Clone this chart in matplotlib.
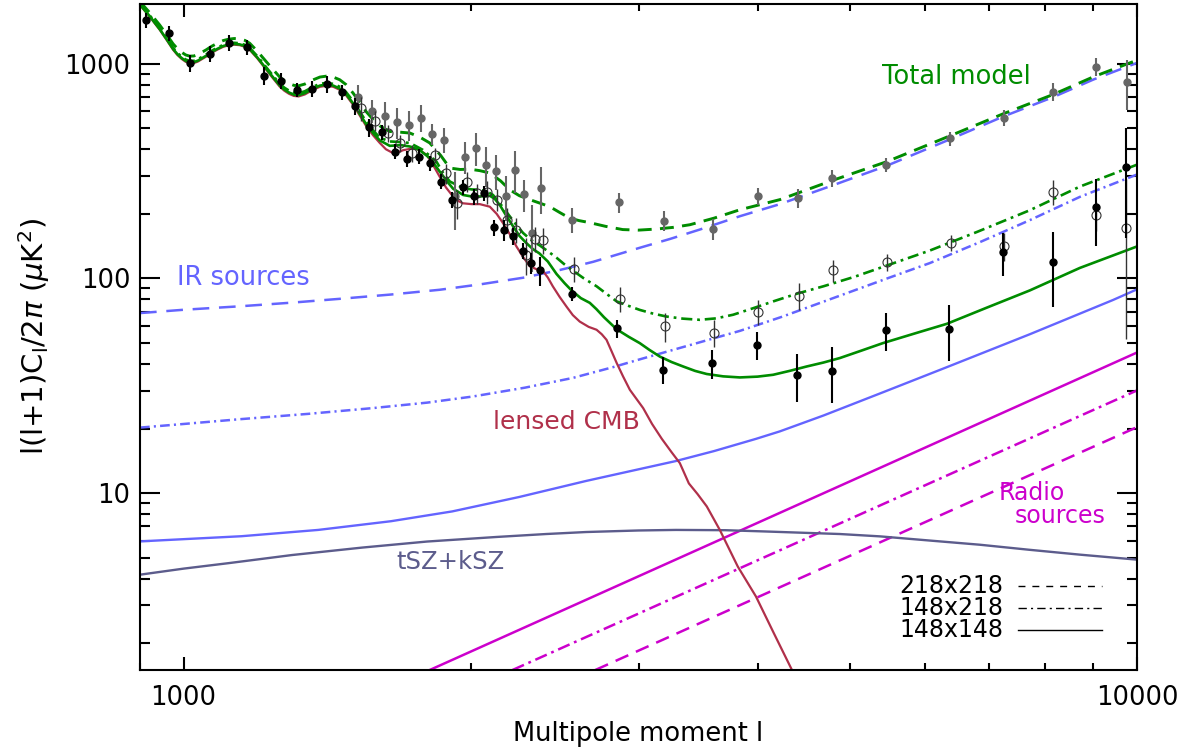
import numpy as np
import matplotlib
matplotlib.use('Agg')
import matplotlib.pyplot as plt
from matplotlib.ticker import FixedLocator, NullFormatter, FixedFormatter

plt.rcParams['font.family'] = ['DejaVu Sans']
plt.rcParams['mathtext.fontset'] = 'dejavusans'
plt.rcParams['lines.scale_dashes'] = False

# ---- model curves (multipole l, D_l in uK^2) ----
cmb_l = [900, 910, 921, 932, 944, 960, 975, 985, 995, 1005, 1015, 1025, 1035, 1056, 1070, 1085, 1100,
         1115, 1130, 1145, 1160, 1173, 1195, 1221, 1240, 1261, 1275, 1290, 1305, 1320, 1340, 1367,
         1390, 1411, 1435, 1458, 1480, 1506, 1530, 1555, 1580, 1606,
         1630, 1658, 1680, 1699, 1730, 1755, 1775, 1798, 1825, 1856, 1885, 1917, 1940, 1964, 2005,
         2045, 2095, 2130, 2163, 2200, 2234, 2270, 2307, 2350, 2383, 2410, 2439, 2480, 2521, 2560,
         2603, 2660, 2711, 2745, 2777, 2810, 2846, 2890, 2938, 2985, 3034, 3100, 3174, 3250, 3315,
         3388, 3460, 3538, 3651, 3813, 3984, 4159, 4346, 4500]
cmb_d = [1880, 1770, 1662, 1550, 1440, 1290, 1162, 1100, 1055, 1022, 1007, 1008, 1025, 1081, 1125, 1165, 1200,
         1220, 1228, 1222, 1200, 1162, 1060, 938, 860, 784, 750, 725, 709, 705, 720, 757,
         782, 790, 782, 757, 715, 644, 575, 511, 465, 428,
         400, 384, 388, 396, 402, 401, 392, 377, 340, 298, 265, 241, 230, 224, 222,
         222, 216, 200, 181, 160, 141, 126, 114, 110, 108, 101, 92, 82, 74, 67.5,
         63, 59.5, 57.7, 55, 51.8, 46, 40.4, 35, 30.3, 27.5, 24.9, 21, 17.9, 15.5, 13.8,
         11.1, 9.9, 8.67, 6.74, 4.55, 3.3, 2.23, 1.5, 1.1]

tot148_l = [900, 910, 921, 932, 944, 960, 975, 985, 995, 1005, 1015, 1025, 1035, 1056, 1070, 1085, 1100,
            1115, 1130, 1145, 1160, 1173, 1195, 1221, 1240, 1261, 1275, 1290, 1305, 1320, 1340, 1367,
            1390, 1411, 1435, 1458, 1480, 1506, 1530, 1555, 1580, 1606,
            1645, 1690, 1727, 1766, 1812, 1856, 1890, 1917, 1964, 2005, 2045, 2095, 2120, 2146, 2180,
            2216, 2250, 2289, 2325, 2361, 2410, 2461, 2510, 2552, 2610, 2667, 2710, 2760, 2846, 2930,
            3009, 3080, 3158, 3250, 3342, 3440, 3537, 3680, 3832, 4000, 4153, 4320, 4502, 4690, 4879,
            5130, 5414, 5850, 6318, 6950, 7720, 8711, 10000]
tot148_d = [1890, 1780, 1672, 1560, 1450, 1300, 1172, 1110, 1065, 1032, 1017, 1018, 1035, 1091, 1135, 1175, 1210,
            1230, 1238, 1232, 1210, 1172, 1070, 948, 870, 794, 760, 735, 719, 715, 730, 767,
            792, 800, 792, 767, 725, 654, 585, 521, 476, 440,
            415, 418, 412, 398, 364, 315, 283, 262, 245, 241, 241, 243, 235, 220, 196,
            175, 158, 146, 137, 131, 120, 105, 95, 88, 81, 77, 72, 66, 58, 53.5,
            50, 46.5, 43.3, 40.8, 38.9, 37.1, 35.9, 35.0, 34.6, 34.9, 35.6, 37.1, 38.9, 40.6, 42.6,
            46, 50, 55.5, 61.5, 73, 88, 112, 141]

tot150_l = [900, 910, 921, 932, 944, 960, 975, 985, 995, 1005, 1015, 1025, 1035, 1056, 1070, 1085, 1100,
            1115, 1130, 1145, 1160, 1173, 1195, 1221, 1240, 1261, 1275, 1290, 1305, 1320, 1340, 1367,
            1390, 1411, 1435, 1458, 1480, 1506, 1530, 1555, 1580, 1606,
            1645, 1690, 1727, 1781, 1841, 1870, 1902, 1964, 2005, 2045, 2080, 2111, 2150, 2198, 2235,
            2270, 2315, 2361, 2410, 2461, 2505, 2552, 2630, 2711, 2780, 2846, 2930, 3009, 3100, 3209,
            3340, 3478, 3620, 3771, 3950, 4153, 4400, 4690, 5060, 5467, 6064, 6800, 7720, 8711, 10000]
tot150_d = [1905, 1795, 1687, 1575, 1465, 1315, 1187, 1125, 1080, 1047, 1032, 1033, 1050, 1106, 1150, 1190, 1225,
            1245, 1253, 1247, 1225, 1187, 1085, 963, 885, 809, 775, 750, 734, 730, 745, 782,
            807, 815, 807, 782, 740, 669, 600, 536, 490, 453,
            435, 432, 428, 398, 351, 312, 283, 264, 260, 259, 255, 245, 222, 195, 177,
            163, 151, 143, 134, 125, 117, 110, 100, 92, 84.5, 78.2, 74.5, 71.4, 68.8, 66.5,
            65, 64.2, 65.2, 67.8, 72.5, 78.2, 85, 92, 102, 115, 135, 165, 208, 268, 339]

tot218_l = [900, 910, 921, 932, 944, 960, 975, 985, 995, 1005, 1015, 1025, 1035, 1056, 1070, 1085, 1100,
            1115, 1130, 1145, 1160, 1173, 1195, 1221, 1240, 1261, 1275, 1290, 1305, 1320, 1340, 1367,
            1390, 1411, 1435, 1458, 1480, 1506, 1530, 1555, 1580, 1606,
            1645, 1690, 1727, 1770, 1812, 1860, 1902, 1950, 1996, 2045, 2095, 2150, 2198, 2250, 2307,
            2360, 2422, 2480, 2541, 2600, 2667, 2770, 2888, 3000, 3135, 3260, 3396, 3600, 3832, 4221,
            4800, 5463, 6366, 7238, 8169, 9001, 10000]
tot218_d = [1950, 1842, 1735, 1624, 1515, 1366, 1238, 1177, 1133, 1100, 1086, 1088, 1105, 1162, 1207, 1247, 1283,
            1303, 1312, 1306, 1285, 1247, 1145, 1023, 945, 869, 835, 810, 794, 790, 805, 842,
            868, 876, 868, 843, 801, 730, 661, 597, 551, 514,
            484, 480, 476, 455, 428, 375, 327, 322, 323, 318, 310, 285, 259, 243, 233,
            225, 216, 203, 191, 186, 182, 175, 169, 168, 170, 173, 178, 191, 209, 233,
            287, 350, 462, 585, 720, 870, 1040]

ir148_l = [900, 1150, 1384, 1650, 1913, 2250, 2644, 2950, 3281, 3600, 3984, 4221, 4690, 5414, 6315, 7720,
           8600, 9437, 10000]
ir148_d = [5.96, 6.3, 6.74, 7.4, 8.22, 9.6, 11.4, 12.7, 14.1, 15.7, 17.9, 19.4, 23.0, 29.5, 38.6, 55,
           67, 79.4, 89]
ir150_l = [900, 1000, 1145, 1350, 1579, 1800, 2011, 2280, 2559, 2819, 3009, 3400, 3832, 4250, 4690, 5467,
           6064, 6850, 7720, 8711, 10000]
ir150_d = [20.2, 21, 22.1, 23.4, 24.9, 26.4, 28.2, 31, 34.4, 38.6, 42, 49, 57, 66.5, 78, 100,
           118, 148, 187, 240, 305]
ir218_l = [900, 1000, 1145, 1300, 1458, 1650, 1856, 2050, 2270, 2480, 2689, 3009, 3240, 3478, 3832, 4221,
           4800, 5463, 6366, 7238, 8169, 9001, 10000]
ir218_d = [69, 71.5, 74.2, 77.2, 80.4, 84.2, 88.6, 94, 100.8, 109.5, 119.6, 139, 153, 169, 195, 222,
           272, 335, 445, 568, 700, 845, 1010]

sz_l = [900, 1000, 1115, 1300, 1541, 1800, 2130, 2400, 2644, 3000, 3283, 3700, 4071, 4879, 5375, 6100,
        6843, 7700, 8711, 10000]
sz_d = [4.17, 4.45, 4.72, 5.15, 5.58, 5.95, 6.25, 6.45, 6.59, 6.7, 6.74, 6.72, 6.63, 6.45, 6.29, 6.0,
        5.75, 5.45, 5.17, 4.9]

radio148_l = [1812, 10000]
radio148_d = [1.5, 45.2]
radio150_l = [2213, 10000]
radio150_d = [1.5, 30.1]
radio218_l = [2703, 10000]
radio218_d = [1.5, 20.3]

# ---- band powers ----
b148_l = [914, 965, 1015, 1065, 1116, 1165, 1214, 1265, 1315, 1365, 1415, 1466, 1514, 1565, 1616, 1665,
          1716, 1766, 1815, 1864, 1914, 1964, 2016, 2066, 2115, 2167, 2216, 2267, 2314, 2366, 2552,
          2849, 3184, 3579, 3991, 4395, 4790, 5449, 6350, 7238, 8155, 9050, 9732]
b148_d = [1600, 1390, 1008, 1113, 1257, 1196, 882, 836, 757, 765, 807, 738, 633, 507, 480, 390,
          361, 370, 345, 283, 233, 267, 241, 250, 173, 169, 157, 135, 118, 109, 84.8,
          58.7, 37.6, 40.4, 49.1, 35.6, 37.2, 57.3, 58.3, 133, 119, 216, 329]
b148_e = [128, 117, 92, 95, 106, 97, 87, 70, 60, 63, 75, 59, 57, 49, 39, 31,
          32, 29, 28, 23, 19, 21, 20, 20, 15, 19, 14, 12, 13, 17, 6,
          5.7, 5.3, 6.2, 7.4, 9, 11, 11.5, 17, 30, 45, 75, 174]

b150_l = [1536, 1586, 1638, 1686, 1734, 1834, 1885, 1935, 1984, 2032, 2081, 2134, 2184, 2234, 2284, 2335,
          2382, 2568, 2869, 3199, 3598, 4006, 4416, 4800, 5470, 6377, 7256, 8168, 9063, 9739]
b150_d = [622, 544, 476, 427, 384, 377, 310, 224, 283, 250, 254, 233, 188, 169, 129, 153,
          151, 111, 80.4, 59.8, 56.0, 69.8, 83.1, 109, 119, 147, 142, 254, 197, 172]
b150_e = [80, 59, 43, 39, 35, 30, 33, 35, 30, 27, 31, 27, 25, 22, 25, 20,
          21, 15, 10.7, 9, 8, 9.4, 12, 13, 11, 13, 21, 34, 30, 120]

b218_l = [1524, 1577, 1625, 1675, 1724, 1773, 1822, 1874, 1924, 1975, 2025, 2075, 2126, 2177, 2225, 2274,
          2322, 2373, 2556, 2861, 3191, 3588, 4001, 4406, 4793, 5453, 6366, 7251, 8155, 9057, 9755]
b218_d = [700, 606, 573, 533, 520, 562, 472, 443, 241, 370, 405, 339, 318, 243, 321, 247,
          163, 265, 188, 226, 186, 170, 243, 237, 294, 339, 449, 562, 743, 971, 827]
b218_e = [100, 75, 90, 87, 82, 80, 55, 59, 72, 62, 72, 72, 59, 58, 70, 42,
          56, 65, 25, 25, 20, 19, 22, 23, 27, 24, 34, 46, 69, 95, 215]

green = '#008c00'
blue = '#6464ff'
red = '#b0304a'
szcol = '#5c5c8c'
mag = '#cc00cc'

fig = plt.figure(figsize=(11.84, 7.48), dpi=100)
ax = fig.add_axes([140 / 1184, 78 / 748, 997 / 1184, 666 / 748])
ax.set_xscale('log')
ax.set_yscale('log')

# foregrounds
ax.plot(radio148_l, radio148_d, color=mag, lw=1.8)
ax.plot(radio150_l, radio150_d, color=mag, lw=1.8, dashes=(9, 3.5, 2, 3.5))
ax.plot(radio218_l, radio218_d, color=mag, lw=1.8, dashes=(10, 6))
ax.plot(sz_l, sz_d, color=szcol, lw=1.7)
ax.plot(ir148_l, ir148_d, color=blue, lw=1.7)
ax.plot(ir150_l, ir150_d, color=blue, lw=1.8, dashes=(7, 3, 1.5, 3))
ax.plot(ir218_l, ir218_d, color=blue, lw=1.8, dashes=(12, 7))
ax.plot(cmb_l, cmb_d, color=red, lw=1.6)
ax.plot(tot148_l, tot148_d, color=green, lw=1.9)
ax.plot(tot150_l, tot150_d, color=green, lw=1.9, dashes=(8, 3.5, 2, 3.5))
ax.plot(tot218_l, tot218_d, color=green, lw=2.1, dashes=(10, 6))

# data
ax.errorbar(b218_l, b218_d, yerr=b218_e, fmt='o', color='#666666', ms=5, elinewidth=1.5, capsize=0, zorder=4)
ax.errorbar(b150_l, b150_d, yerr=b150_e, fmt='o', color='#333333', mfc='none', mec='#333333',
            ms=6.5, mew=0.8, elinewidth=1.0, capsize=0, zorder=5)
ax.errorbar(b148_l, b148_d, yerr=b148_e, fmt='o', color='black', ms=5, elinewidth=1.5, capsize=0, zorder=6)

ax.set_xlim(900, 10000)
ax.set_ylim(1.5, 1900)

ax.xaxis.set_major_locator(FixedLocator([1000, 10000]))
ax.xaxis.set_major_formatter(FixedFormatter(['1000', '10000']))
ax.xaxis.set_minor_locator(FixedLocator([900] + list(range(2000, 10000, 1000))))
ax.xaxis.set_minor_formatter(NullFormatter())
ax.yaxis.set_major_locator(FixedLocator([10, 100, 1000]))
ax.yaxis.set_major_formatter(FixedFormatter(['10', '100', '1000']))
yminor = [m * 10 ** k for k in range(0, 4) for m in range(2, 10)]
ax.yaxis.set_minor_locator(FixedLocator(yminor))
ax.yaxis.set_minor_formatter(NullFormatter())

ax.tick_params(which='both', direction='in', top=True, right=True, width=1.5, labelsize=18.5)
ax.tick_params(axis='x', which='major', length=9.5, pad=11)
ax.tick_params(axis='x', which='minor', length=5)
ax.tick_params(axis='y', which='major', length=14.5, pad=7)
ax.tick_params(axis='y', which='minor', length=7.5)
for sp in ax.spines.values():
    sp.set_linewidth(1.5)

ax.set_xlabel('Multipole moment l', fontsize=18.5, labelpad=7)
ax.set_ylabel(r'l(l+1)C$_\mathrm{l}$/2$\pi$ ($\mu$K$^2$)', fontsize=21, labelpad=9)

# annotations
ax.text(0.8185, 0.8904, 'Total model', color=green, fontsize=18.5, ha='center', va='center', transform=ax.transAxes)
ax.text(0.1033, 0.5886, 'IR sources', color=blue, fontsize=18.5, ha='center', va='center', transform=ax.transAxes)
ax.text(0.4273, 0.3724, 'lensed CMB', color=red, fontsize=18, ha='center', va='center', transform=ax.transAxes)
ax.text(0.3119, 0.1622, 'tSZ+kSZ', color=szcol, fontsize=17.5, ha='center', va='center', transform=ax.transAxes)
ax.text(0.8947, 0.2553, 'Radio', color=mag, fontsize=17, ha='center', va='baseline', transform=ax.transAxes)
ax.text(0.9228, 0.2207, 'sources', color=mag, fontsize=17, ha='center', va='baseline', transform=ax.transAxes)

# key for the three spectra
key_labels = ['218x218', '148x218', '148x148']
key_dashes = [(5, 5), (6, 3, 1.5, 3), (None, None)]
key_y = [0.1261, 0.0931, 0.0601]
for lab, dsh, yy in zip(key_labels, key_dashes, key_y):
    ax.text(0.8656, yy, lab, fontsize=17, ha='right', va='center', transform=ax.transAxes)
    ln, = ax.plot([0.8806, 0.9649], [yy, yy], color='black', lw=1.0, transform=ax.transAxes)
    if dsh[0] is not None:
        ln.set_dashes(dsh)

fig.savefig('out.png', dpi=100)
